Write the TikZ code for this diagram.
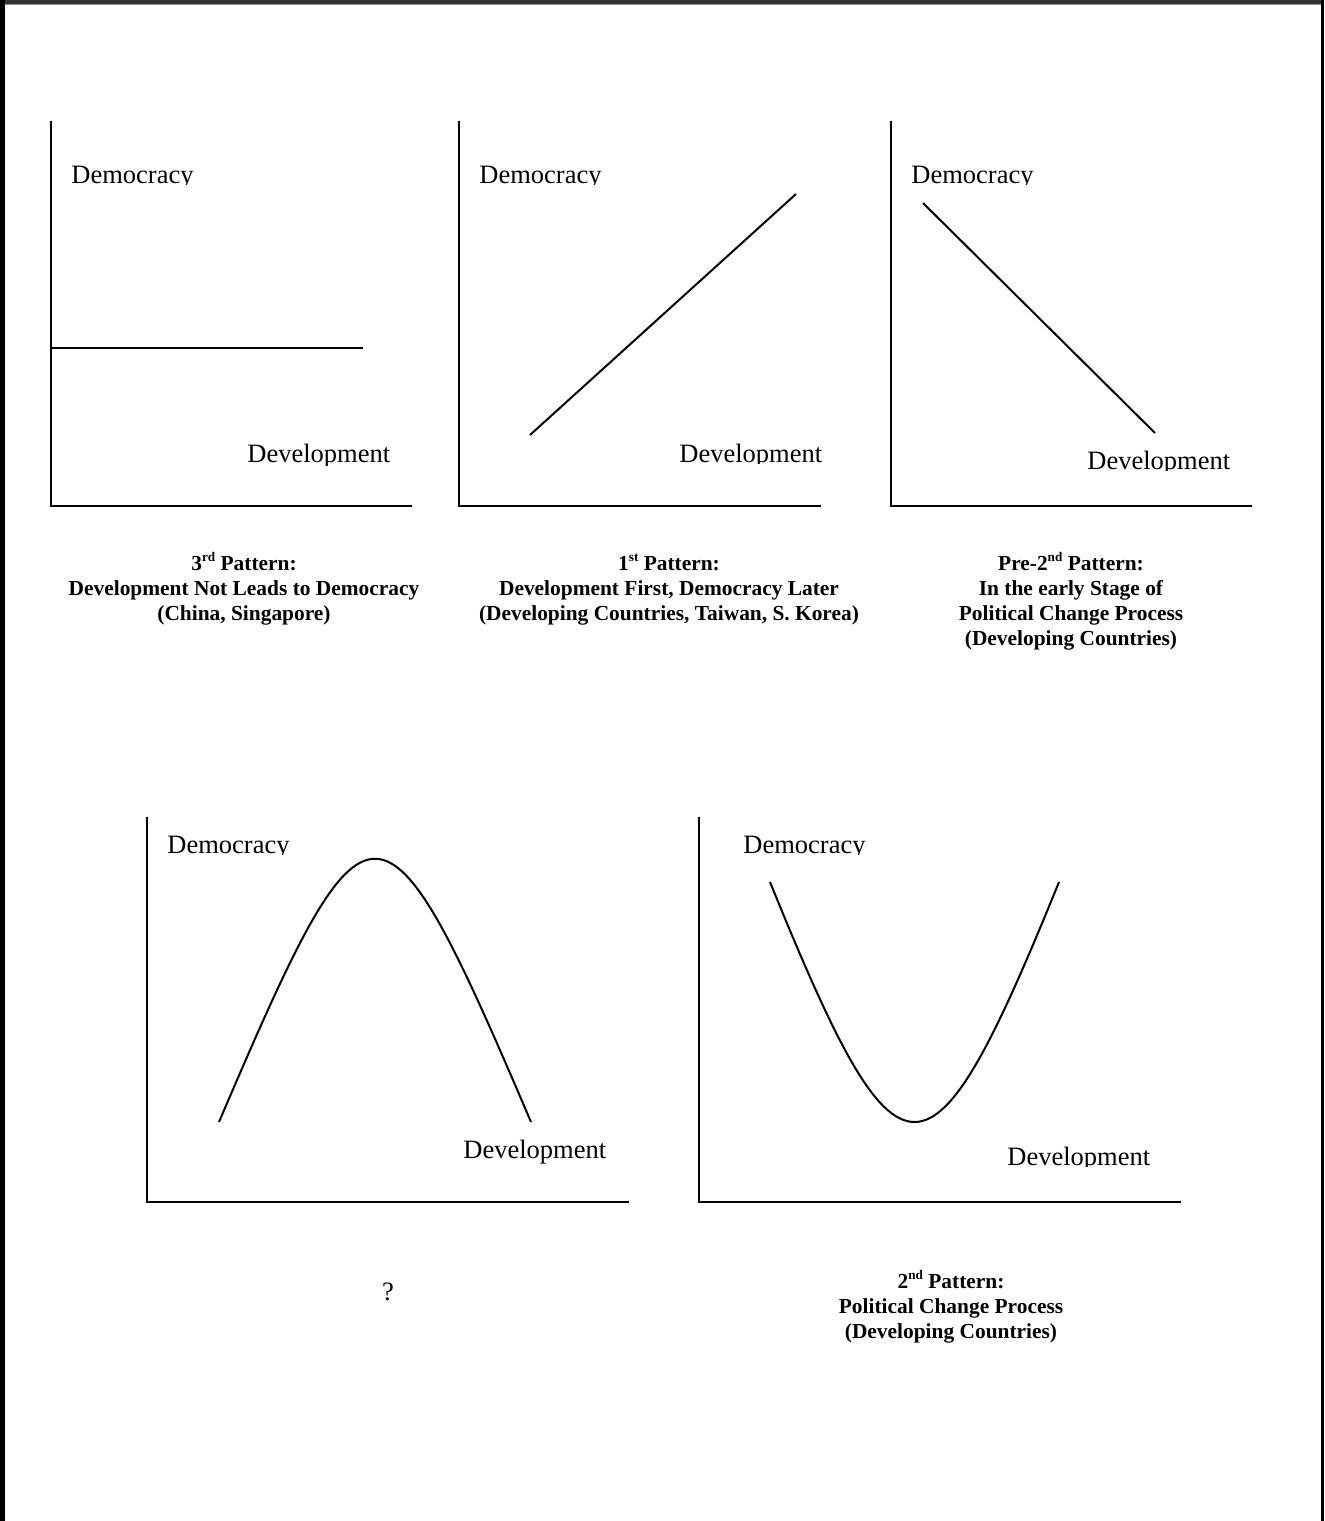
\documentclass[tikz,border=0pt]{standalone}
\usepackage{fontspec}
\setmainfont{Liberation Serif}
\newcommand{\ordsup}[1]{\raisebox{0.42em}{\fontsize{6.6}{7}\selectfont #1}}
\begin{document}
\begin{tikzpicture}[x=0.5pt,y=-0.5pt,
  axis/.style={line width=1pt,line cap=rect},
  trend/.style={line width=1pt},
  axislabel/.style={font=\fontsize{13.25}{15}\selectfont,inner sep=0pt,anchor=base west},
  % multi-line captions: the base anchor sits on the last line
  caption/.style={font=\fontsize{10.7}{12.5}\selectfont\bfseries,align=center,inner sep=0pt,anchor=base},
  qmark/.style={font=\fontsize{13.25}{15}\selectfont,inner sep=0pt,anchor=base}]
\useasboundingbox (0,0) rectangle (1324,1521);
\fill[white] (0,0) rectangle (1324,1521);
% page frame: top band, left and right rules
\fill[black!80] (0,0) rectangle (1324,4);
\fill[black!45] (0,4) rectangle (1324,5);
\fill[black] (0,0) rectangle (4.5,1521);
\fill[black] (1320.5,0) rectangle (1324,1521);

% ---------- panel 1: 3rd pattern ----------
\coordinate (t1) at (51,122); \coordinate (o1) at (51,506); \coordinate (r1) at (411,506);
\draw[axis] (t1) -- (o1) -- (r1);
\coordinate (a1) at (51,348); \coordinate (b1) at (363,348);
\draw[trend] (a1) -- (b1);
\begin{scope}\clip (60,150) rectangle (220,184);
\node[axislabel] (dem1) at (71,183) {Democracy};\end{scope}
\begin{scope}\clip (240,430) rectangle (400,465);
\node[axislabel] (dev1) at (247,462) {Development};\end{scope}
\node[caption] (cap1) at (244,620) {3\ordsup{rd} Pattern:\\Development Not Leads to Democracy\\(China, Singapore)};

% ---------- panel 2: 1st pattern ----------
\coordinate (t2) at (459,122); \coordinate (o2) at (459,506); \coordinate (r2) at (820,506);
\draw[axis] (t2) -- (o2) -- (r2);
\coordinate (a2) at (530,435); \coordinate (b2) at (796,194);
\draw[trend] (a2) -- (b2);
\begin{scope}\clip (470,150) rectangle (630,184);
\node[axislabel] (dem2) at (479,183) {Democracy};\end{scope}
\begin{scope}\clip (670,430) rectangle (830,463);
\node[axislabel] (dev2) at (679,462) {Development};\end{scope}
\node[caption] (cap2) at (669,620) {1\ordsup{st} Pattern:\\Development First, Democracy Later\\(Developing Countries, Taiwan, S. Korea)};

% ---------- panel 3: pre-2nd pattern ----------
\coordinate (t3) at (891,122); \coordinate (o3) at (891,506); \coordinate (r3) at (1251,506);
\draw[axis] (t3) -- (o3) -- (r3);
\coordinate (a3) at (923,203); \coordinate (b3) at (1155,433);
\draw[trend] (a3) -- (b3);
\begin{scope}\clip (900,150) rectangle (1060,184);
\node[axislabel] (dem3) at (911,183) {Democracy};\end{scope}
\begin{scope}\clip (1080,440) rectangle (1240,470);
\node[axislabel] (dev3) at (1087,469) {Development};\end{scope}
\node[caption] (cap3) at (1071,645) {Pre-2\ordsup{nd} Pattern:\\In the early Stage of\\Political Change Process\\(Developing Countries)};

% ---------- panel 4: inverted U ----------
\coordinate (t4) at (147,818); \coordinate (o4) at (147,1202); \coordinate (r4) at (628,1202);
\draw[axis] (t4) -- (o4) -- (r4);
\coordinate (a4) at (219,1122); \coordinate (b4) at (531,1122);
\draw[trend] (a4) .. controls (369,771) and (381,771) .. (b4);
\begin{scope}\clip (155,820) rectangle (320,854);
\node[axislabel] (dem4) at (167,853) {Democracy};\end{scope}
\node[axislabel] (dev4) at (463,1158) {Development};
\node[qmark] (cap4) at (388,1300) {?};

% ---------- panel 5: U shape, 2nd pattern ----------
\coordinate (t5) at (699,818); \coordinate (o5) at (699,1202); \coordinate (r5) at (1180,1202);
\draw[axis] (t5) -- (o5) -- (r5);
\coordinate (a5) at (770,882); \coordinate (b5) at (1059,882);
\draw[trend] (a5) .. controls (900,1202) and (929,1202) .. (b5);
\begin{scope}\clip (730,820) rectangle (900,854);
\node[axislabel] (dem5) at (743,853) {Democracy};\end{scope}
\begin{scope}\clip (1000,1130) rectangle (1170,1166);
\node[axislabel] (dev5) at (1007,1165) {Development};\end{scope}
\node[caption] (cap5) at (951,1338) {2\ordsup{nd} Pattern:\\Political Change Process\\(Developing Countries)};
\end{tikzpicture}
\end{document}
